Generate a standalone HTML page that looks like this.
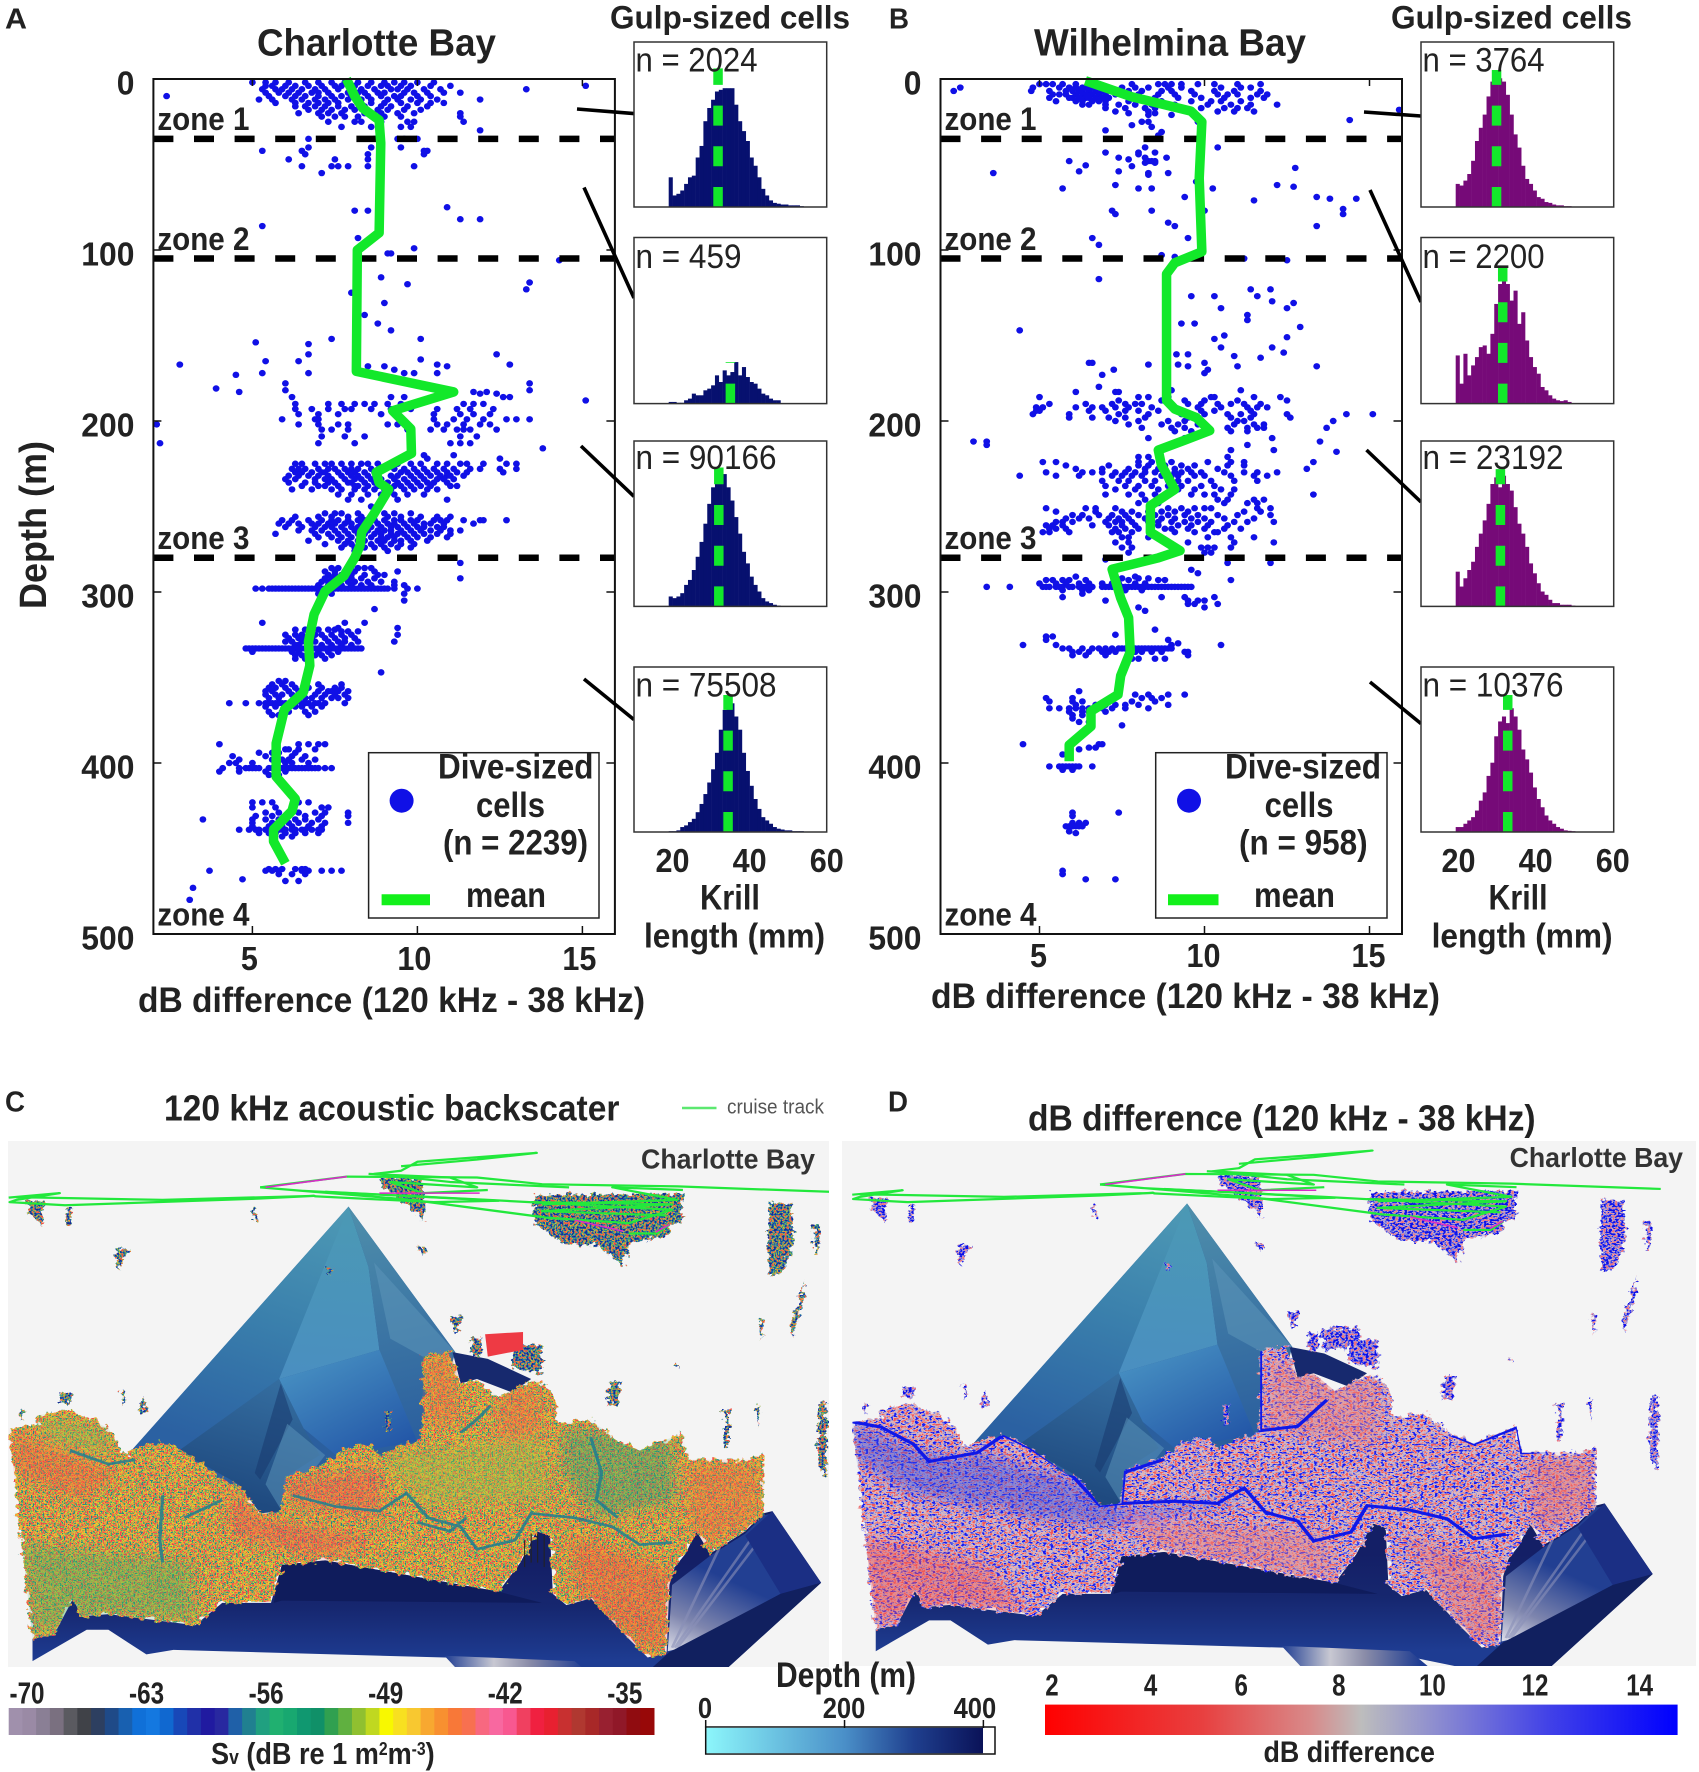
<!DOCTYPE html>
<html lang="en">
<head>
<meta charset="utf-8">
<title>Krill acoustic backscatter: Charlotte Bay and Wilhelmina Bay</title>
<style>
html,body{margin:0;padding:0;background:#fff;width:1699px;height:1772px;overflow:hidden}
svg{display:block}
text{font-family:"Liberation Sans",sans-serif;fill:#222}
.b{font-weight:bold}
</style>
</head>
<body>
<svg id="fig" xmlns="http://www.w3.org/2000/svg" width="1699" height="1772" viewBox="0 0 1699 1772">
<defs>
  <filter id="noiseC" x="0" y="0" width="100%" height="100%" color-interpolation-filters="sRGB">
    <feTurbulence type="fractalNoise" baseFrequency="0.07" numOctaves="3" seed="5" result="w"/>
    <feDisplacementMap in="SourceGraphic" in2="w" scale="26" xChannelSelector="R" yChannelSelector="G" result="shape"/>
    <feTurbulence type="fractalNoise" baseFrequency="0.28 0.26" numOctaves="2" seed="3" result="n"/>
    <feColorMatrix in="n" type="matrix" values="3.0 0 0 0 -1.0 3.0 0 0 0 -1.0 3.0 0 0 0 -1.0 0 0 0 0 1"/>
    <feComponentTransfer>
      <feFuncR type="discrete" tableValues=".14 .36 .72 .93 .97 .97 .96 .94"/>
      <feFuncG type="discrete" tableValues=".52 .70 .80 .84 .72 .58 .42 .26"/>
      <feFuncB type="discrete" tableValues=".54 .38 .24 .20 .18 .24 .32 .32"/>
    </feComponentTransfer>
    <feComposite in2="shape" operator="in"/>
  </filter>
  <filter id="noiseCb" x="-5%" y="-5%" width="110%" height="110%" color-interpolation-filters="sRGB">
    <feTurbulence type="fractalNoise" baseFrequency="0.09" numOctaves="3" seed="11" result="w"/>
    <feDisplacementMap in="SourceGraphic" in2="w" scale="22" xChannelSelector="R" yChannelSelector="G" result="shape"/>
    <feTurbulence type="fractalNoise" baseFrequency="0.25 0.2" numOctaves="2" seed="6" result="n"/>
    <feColorMatrix in="n" type="matrix" values="3.0 0 0 0 -1.0 3.0 0 0 0 -1.0 3.0 0 0 0 -1.0 0 0 0 0 1"/>
    <feComponentTransfer>
      <feFuncR type="discrete" tableValues=".10 .10 .12 .12 .30 .78 .94 .94"/>
      <feFuncG type="discrete" tableValues=".16 .24 .38 .54 .66 .78 .60 .30"/>
      <feFuncB type="discrete" tableValues=".58 .70 .76 .56 .40 .24 .20 .30"/>
    </feComponentTransfer>
    <feComposite in2="shape" operator="in"/>
  </filter>
  <filter id="noiseD" x="0" y="0" width="100%" height="100%" color-interpolation-filters="sRGB">
    <feTurbulence type="fractalNoise" baseFrequency="0.07" numOctaves="3" seed="5" result="w"/>
    <feDisplacementMap in="SourceGraphic" in2="w" scale="26" xChannelSelector="R" yChannelSelector="G" result="shape"/>
    <feTurbulence type="fractalNoise" baseFrequency="0.15 0.22" numOctaves="2" seed="8" result="n"/>
    <feColorMatrix in="n" type="matrix" values="3.0 0 0 0 -1.0 3.0 0 0 0 -1.0 3.0 0 0 0 -1.0 0 0 0 0 1"/>
    <feComponentTransfer>
      <feFuncR type="discrete" tableValues=".94 .93 .92 .88 .80 .66 .40 .10"/>
      <feFuncG type="discrete" tableValues=".35 .55 .68 .74 .72 .66 .45 .10"/>
      <feFuncB type="discrete" tableValues=".35 .55 .68 .75 .80 .85 .90 .95"/>
    </feComponentTransfer>
    <feComposite in2="shape" operator="in"/>
  </filter>
  <filter id="noiseDb" x="-5%" y="-5%" width="110%" height="110%" color-interpolation-filters="sRGB">
    <feTurbulence type="fractalNoise" baseFrequency="0.09" numOctaves="3" seed="11" result="w"/>
    <feDisplacementMap in="SourceGraphic" in2="w" scale="22" xChannelSelector="R" yChannelSelector="G" result="shape"/>
    <feTurbulence type="fractalNoise" baseFrequency="0.18 0.22" numOctaves="2" seed="4" result="n"/>
    <feColorMatrix in="n" type="matrix" values="3.0 0 0 0 -1.0 3.0 0 0 0 -1.0 3.0 0 0 0 -1.0 0 0 0 0 1"/>
    <feComponentTransfer>
      <feFuncR type="discrete" tableValues=".92 .90 .80 .62 .36 .12 .06 .06"/>
      <feFuncG type="discrete" tableValues=".45 .62 .68 .62 .40 .14 .06 .06"/>
      <feFuncB type="discrete" tableValues=".50 .70 .80 .85 .90 .94 .94 .90"/>
    </feComponentTransfer>
    <feComposite in2="shape" operator="in"/>
  </filter>
  <filter id="soft" x="-20%" y="-20%" width="140%" height="140%"><feGaussianBlur stdDeviation="14"/></filter>
  <linearGradient id="gFaceL" gradientUnits="userSpaceOnUse" x1="640" y1="305" x2="420" y2="850"><stop offset="0" stop-color="#4e9ab5"/><stop offset=".5" stop-color="#3a7fac"/><stop offset="1" stop-color="#2b61a2"/></linearGradient>
  <linearGradient id="gFaceC" gradientUnits="userSpaceOnUse" x1="640" y1="305" x2="600" y2="680"><stop offset="0" stop-color="#4b99b4"/><stop offset="1" stop-color="#4a8fc0"/></linearGradient>
  <linearGradient id="gFaceR" gradientUnits="userSpaceOnUse" x1="640" y1="305" x2="780" y2="820"><stop offset="0" stop-color="#4f8fab"/><stop offset="1" stop-color="#2b5f9e"/></linearGradient>
  <linearGradient id="gFaceLow" gradientUnits="userSpaceOnUse" x1="560" y1="640" x2="700" y2="860"><stop offset="0" stop-color="#4790c2"/><stop offset="1" stop-color="#2458a8"/></linearGradient>
  <linearGradient id="gSmall" gradientUnits="userSpaceOnUse" x1="510" y1="690" x2="420" y2="950"><stop offset="0" stop-color="#356ea0"/><stop offset="1" stop-color="#1f4a80"/></linearGradient>
  <linearGradient id="gFan" gradientUnits="userSpaceOnUse" x1="1235" y1="1300" x2="1330" y2="1130"><stop offset="0" stop-color="#e0e0ea"/><stop offset=".4" stop-color="#7f86ae"/><stop offset="1" stop-color="#223f92"/></linearGradient>
  <linearGradient id="gBase" gradientUnits="userSpaceOnUse" x1="500" y1="1100" x2="500" y2="1320"><stop offset="0" stop-color="#141f66"/><stop offset=".45" stop-color="#16276f"/><stop offset="1" stop-color="#1e3c92"/></linearGradient>
  <linearGradient id="gFloor" gradientUnits="userSpaceOnUse" x1="820" y1="0" x2="1080" y2="0"><stop offset="0" stop-color="#1e3c92"/><stop offset=".35" stop-color="#c8c8d2"/><stop offset=".6" stop-color="#8a8ca8"/><stop offset="1" stop-color="#1e3c92"/></linearGradient>
  <linearGradient id="gDepth" x1="0" x2="1" y1="0" y2="0"><stop offset="0" stop-color="#8cf6fb"/><stop offset=".5" stop-color="#4a8fc8"/><stop offset=".75" stop-color="#1f3f8e"/><stop offset="1" stop-color="#0a1258"/></linearGradient>
  <linearGradient id="gDb" x1="0" x2="1" y1="0" y2="0"><stop offset="0" stop-color="#ff0000"/><stop offset=".25" stop-color="#e84040"/><stop offset=".42" stop-color="#d88a8a"/><stop offset=".5" stop-color="#bdbdbd"/><stop offset=".62" stop-color="#8c8cd0"/><stop offset=".8" stop-color="#4040e8"/><stop offset="1" stop-color="#0000ff"/></linearGradient>

  <polygon id="curtain" points="16,800 70,792 72,770 130,760 200,800 230,860 262,838 300,830 350,860 420,920 440,925 480,990 520,985 525,910 600,880 630,850 680,830 700,860 760,830 780,820 780,640 830,625 850,700 880,690 920,730 990,690 1020,720 1030,790 1090,780 1140,830 1180,850 1260,810 1270,870 1400,870 1410,855 1408,990 1375,1030 1310,1080 1285,1030 1265,1080 1245,1110 1235,1150 1230,1300 1195,1312 1160,1270 1120,1220 1090,1180 1045,1195 1020,1170 1015,1040 990,1030 960,1100 920,1165 600,1095 520,1105 500,1190 410,1190 360,1240 200,1215 150,1220 135,1180 100,1260 60,1270"/>
  <polygon id="hotPatch" points="895,590 965,585 965,625 900,640"/>
  <g id="blobs">
    <polygon points="985,280 1260,275 1258,340 1240,345 1235,370 1160,385 1150,440 1100,390 1040,390 985,340"/>
    <polygon points="1420,295 1460,300 1465,380 1445,450 1420,460 1415,370"/>
    <polygon points="950,615 1000,615 1000,680 945,665"/><polygon points="868,600 890,600 888,640 872,640"/>
    <polygon points="50,290 80,295 78,350 55,320"/><polygon points="120,310 133,310 130,345 122,345"/>
    <polygon points="465,312 473,312 473,338 466,338"/><polygon points="700,240 780,240 782,335 760,310 705,260"/>
    <polygon points="213,400 238,400 218,450"/><polygon points="1125,695 1145,695 1142,745 1120,745"/>
    <polygon points="1400,555 1408,555 1405,600"/><polygon points="1460,560 1485,470 1480,530 1462,600"/>
    <polygon points="1500,345 1515,345 1510,410 1503,410"/><polygon points="1335,760 1345,760 1345,840 1338,840"/>
    <polygon points="1510,745 1525,745 1525,910 1510,880"/><polygon points="110,720 132,720 130,750 112,745"/>
    <polygon points="222,715 232,720 228,745"/><polygon points="260,735 268,735 268,765 260,765"/>
    <polygon points="1395,750 1402,750 1400,800"/><polygon points="1245,650 1250,650 1250,670"/>
    <polygon points="600,440 612,440 608,460"/><polygon points="710,760 722,760 720,805 712,805"/>
    <polygon points="830,550 855,550 840,590"/><polygon points="775,395 785,395 782,420"/><polygon points="35,760 45,760 40,785"/>
  </g>
  <g id="terrain">
    <polygon fill="#2b5f9e" points="643,305 235,860 330,870 520,1000 790,850 840,630"/>
    <polygon fill="url(#gFaceL)" points="643,305 235,860 330,850 515,690 600,640"/>
    <polygon fill="url(#gFaceC)" points="643,305 515,690 700,625 680,440"/>
    <polygon fill="url(#gFaceR)" points="643,305 840,630 782,825 740,800 700,625 680,440"/>
    <polygon fill="url(#gFaceLow)" points="515,690 700,625 770,830 620,860 560,800"/>
    <polygon fill="url(#gSmall)" points="515,690 330,850 440,925 480,990 520,985 525,910 590,860 560,800"/>
    <polygon fill="#17396e" opacity=".55" points="518,700 540,780 480,915 470,900"/>
    <polygon fill="#5a92b8" opacity=".55" points="530,790 600,860 520,985 490,925"/>
    <polygon fill="#5a92b8" opacity=".6" points="690,430 840,630 780,640 720,600"/>
    <polygon fill="#17296e" points="835,630 900,645 980,690 945,720 880,690 850,700"/>
    <polygon fill="url(#gBase)" points="60,1270 100,1260 135,1180 150,1220 200,1215 360,1240 410,1190 500,1190 520,1105 600,1095 920,1165 960,1100 990,1030 1015,1040 1020,1170 1045,1195 1090,1180 1160,1270 1195,1312 1230,1300 1235,1150 1245,1110 1265,1080 1285,1030 1310,1080 1375,1030 1408,990 1425,985 1515,1145 1320,1360 1170,1360 1000,1318 320,1295 270,1305 200,1250 160,1250 60,1320"/>
    <polygon fill="url(#gFan)" points="1232,1298 1240,1150 1310,1085 1375,1035 1408,995 1425,990 1500,1130 1260,1290"/>
    <g stroke="#8a90b8" stroke-width="5" opacity=".6" fill="none"><line x1="1240" y1="1290" x2="1330" y2="1060"/><line x1="1245" y1="1290" x2="1390" y2="1040"/><line x1="1250" y1="1290" x2="1420" y2="1020"/></g>
    <polygon fill="#1b2f84" points="1425,985 1515,1145 1440,1170 1375,1040"/>
    <polygon fill="#11205f" points="1515,1145 1320,1360 1180,1360 1235,1300 1440,1170"/>
    <polygon fill="url(#gFloor)" points="820,1308 1060,1320 1100,1360 860,1360"/>
    <polygon fill="#0f1c5c" points="520,1105 600,1095 920,1165 1000,1190 520,1185 505,1190"/>
  </g>
  <g id="track" fill="none" stroke="#22e83c" stroke-width="5" stroke-linejoin="round">
    <polyline points="16,285 110,275 30,290 18,295 120,302 480,287 580,281 300,290 30,284"/>
    <polyline points="480,262 640,238 880,240 1000,255 1250,260 1530,272"/>
    <polyline points="740,215 880,200 990,185 770,205 740,225 690,232 830,250 1050,262"/>
    <polyline points="560,270 900,290 1240,312 1160,342 1010,330 760,290 480,262"/>
    <polyline points="1160,365 1212,365 1235,345"/>
    <polyline points="580,282 800,295 920,292 700,278 600,272"/>
    <polyline points="1000,300 1250,290 1130,262 1260,268"/>
    <polyline points="680,232 830,240 880,262 720,250 780,275 900,268"/>
    <polyline points="980,295 1240,300 1000,315 1230,325"/>
  </g>
  <g id="trackPink" fill="none" stroke="#d82cc8" stroke-width="3.5">
    <polyline points="490,262 640,238"/><polyline points="700,275 885,275"/><polyline points="1060,335 1150,360"/><polyline points="1210,362 1235,345"/>
  </g>
  <clipPath id="clipCurtain"><use href="#curtain"/></clipPath>
  <clipPath id="clipC"><rect x="8" y="1141" width="821" height="526"/></clipPath>
  <clipPath id="clipD"><rect x="842" y="1141" width="854" height="525"/></clipPath>
</defs>

<rect x="0" y="0" width="1699" height="1772" fill="#fff"/>

<!-- Panel C -->
<text class="b" x="5" y="1111.6" font-size="29" textLength="20" lengthAdjust="spacingAndGlyphs">C</text>
<text class="b" x="164" y="1120.6" font-size="36" textLength="455.5" lengthAdjust="spacingAndGlyphs">120 kHz acoustic backscater</text>
<line x1="682" y1="1108" x2="716.5" y2="1108" stroke="#5ce870" stroke-width="2.5"/>
<text x="727" y="1113.4" font-size="20" textLength="97" lengthAdjust="spacingAndGlyphs" style="fill:#555">cruise track</text>
<g clip-path="url(#clipC)">
  <rect x="8" y="1141" width="821" height="526" fill="#f4f4f4"/>
  <g transform="translate(0,1070) scale(0.542,0.4478)">
    <use href="#terrain"/>
    <g filter="url(#noiseCb)"><use href="#blobs"/></g>
    <g filter="url(#noiseC)"><use href="#curtain"/></g>
    <use href="#hotPatch" fill="#ee3a44"/>
    <g clip-path="url(#clipCurtain)">
      <g filter="url(#soft)" opacity=".42">
        <polygon fill="#f04a50" points="520,920 700,890 700,1000 540,970"/>
        <polygon fill="#f04a50" points="420,930 480,1000 700,1050 600,1090 430,1040"/>
        <polygon fill="#f05a40" points="20,810 120,850 220,900 150,960 30,900"/>
        <polygon fill="#f05040" points="1050,1040 1240,1120 1230,1290 1180,1290 1070,1170"/>
        <polygon fill="#f06a40" points="780,640 840,640 850,780 790,800"/>
        <polygon fill="#f06a40" points="920,730 990,700 1000,800 920,850"/>
        <polygon fill="#f06a40" points="1270,880 1400,880 1400,1000 1300,1060 1270,1000"/>
        <polygon fill="#48b060" points="40,1060 350,1100 360,1230 200,1210 70,1260 30,1000"/>
        <polygon fill="#2f9f70" points="1040,800 1240,830 1250,960 1100,1000 1040,900"/>
        <polygon fill="#98c048" points="700,860 1000,820 1020,960 780,970"/>
        <polygon fill="#88b850" points="70,770 200,800 200,860 90,830"/>
        <polygon fill="#209090" points="20,1170 70,1260 40,1250"/>
      </g>
      <g fill="none" stroke="#1f7f90" stroke-width="6" opacity=".85">
        <polyline points="130,850 200,880 250,870"/>
        <polyline points="540,950 620,975 700,985 750,945 790,1000 850,1020 880,1070 950,1050 980,990 1060,1000 1130,1020 1180,1060 1240,1055"/>
        <polyline points="300,950 295,1050 300,1100"/>
        <polyline points="340,1000 410,960"/>
        <polyline points="850,810 880,780 905,750"/>
        <polyline points="1090,820 1110,900 1100,960 1140,1000"/>
        <polyline points="770,1010 830,1030 860,1000"/>
      </g>
    </g>
    <g stroke="#222" stroke-width="2">
      <line x1="968" y1="1050" x2="968" y2="1110"/><line x1="980" y1="1035" x2="980" y2="1100"/><line x1="992" y1="1035" x2="992" y2="1100"/><line x1="1004" y1="1040" x2="1004" y2="1110"/>
    </g>
    <use href="#track"/>
    <use href="#trackPink"/>
  </g>
  <text class="b" x="641" y="1168.5" font-size="28" textLength="174" lengthAdjust="spacingAndGlyphs" style="fill:#333">Charlotte Bay</text>
</g>

<!-- Panel D -->
<text class="b" x="888" y="1111.6" font-size="29" textLength="20" lengthAdjust="spacingAndGlyphs">D</text>
<text class="b" x="1028" y="1130.5" font-size="36" textLength="507.6" lengthAdjust="spacingAndGlyphs">dB difference (120 kHz - 38 kHz)</text>
<g clip-path="url(#clipD)">
  <rect x="842" y="1141" width="854" height="525" fill="#f4f4f4"/>
  <g transform="translate(843.7,1068.95) scale(0.534,0.4411)">
    <use href="#terrain"/>
    <g filter="url(#noiseDb)"><use href="#blobs"/><use href="#hotPatch"/></g>
    <g filter="url(#noiseD)"><use href="#curtain"/></g>
    <g clip-path="url(#clipCurtain)">
      <g filter="url(#soft)" opacity=".45">
        <polygon fill="#3a48e0" points="230,860 480,950 520,1000 760,975 500,1040 320,1010 240,950"/>
        <polygon fill="#3a48e0" points="20,800 120,860 250,890 280,1000 120,960 20,880"/>
        <polygon fill="#f05858" points="20,1060 260,1120 340,1230 200,1215 60,1260"/>
        <polygon fill="#e88080" points="520,1020 900,1050 920,1160 600,1090"/>
        <polygon fill="#e87070" points="1050,1060 1230,1130 1230,1290 1170,1290"/>
        <polygon fill="#e88080" points="800,660 1000,710 1000,860 790,810"/>
        <polygon fill="#e87070" points="1280,890 1400,880 1400,1000 1300,1050"/>
      </g>
      <g fill="none" stroke="#0f18e8" stroke-width="7">
        <polyline points="16,800 70,812 130,850 160,890 250,870 300,830 350,860 430,925 480,990 520,985 525,915 600,885"/>
        <polyline points="520,985 620,980 700,985 750,950 790,1005 850,1025 880,1070 950,1050 980,990 1060,1000 1130,1020 1180,1065 1240,1055"/>
        <polyline points="1140,830 1180,850 1262,812 1270,870 1408,862"/>
        <polyline points="780,640 780,820 850,810 905,750"/>
      </g>
    </g>
    <use href="#track"/>
    <use href="#trackPink"/>
  </g>
  <text class="b" x="1509.6" y="1167" font-size="28" textLength="173.4" lengthAdjust="spacingAndGlyphs" style="fill:#333">Charlotte Bay</text>
</g>

<!-- colour bars -->
<g id="svBar"></g>
<g id="svTicks"></g>
<text class="b" x="211" y="1764" font-size="31" textLength="223.7" lengthAdjust="spacingAndGlyphs">S<tspan font-size="20">v</tspan> (dB re 1 m<tspan font-size="18" dy="-9">2</tspan><tspan dy="9">m</tspan><tspan font-size="18" dy="-9">-3</tspan><tspan dy="9">)</tspan></text>

<text class="b" x="776" y="1687" font-size="35" textLength="140" lengthAdjust="spacingAndGlyphs">Depth (m)</text>
<rect x="705.7" y="1727" width="289.3" height="27" fill="#fff" stroke="#111" stroke-width="1.5"/>
<rect x="706.5" y="1727.8" width="276.5" height="25.4" fill="url(#gDepth)"/>
<g id="depthTicks"></g>

<rect x="1045" y="1704.6" width="632.6" height="30.4" fill="url(#gDb)"/>
<g id="dbTicks"></g>
<text class="b" x="1263.5" y="1762" font-size="30" textLength="171.5" lengthAdjust="spacingAndGlyphs">dB difference</text>

<!-- top panels titles -->
<text class="b" x="5" y="28.5" font-size="29" textLength="22" lengthAdjust="spacingAndGlyphs">A</text>
<text class="b" x="257" y="55.4" font-size="38" textLength="239" lengthAdjust="spacingAndGlyphs">Charlotte Bay</text>
<text class="b" x="610" y="28.6" font-size="32" textLength="240" lengthAdjust="spacingAndGlyphs">Gulp-sized cells</text>
<text class="b" x="889" y="28.5" font-size="29" textLength="20" lengthAdjust="spacingAndGlyphs">B</text>
<text class="b" x="1034" y="55.4" font-size="38" textLength="272" lengthAdjust="spacingAndGlyphs">Wilhelmina Bay</text>
<text class="b" x="1391" y="28.6" font-size="32" textLength="241" lengthAdjust="spacingAndGlyphs">Gulp-sized cells</text>
<text class="b" transform="translate(46,609) rotate(-90)" font-size="38" textLength="168" lengthAdjust="spacingAndGlyphs">Depth (m)</text>
<text class="b" x="138" y="1012" font-size="35" textLength="507" lengthAdjust="spacingAndGlyphs">dB difference (120 kHz - 38 kHz)</text>
<text class="b" x="931" y="1008" font-size="35" textLength="509" lengthAdjust="spacingAndGlyphs">dB difference (120 kHz - 38 kHz)</text>
<text class="b" x="700" y="909.5" font-size="35" textLength="60" lengthAdjust="spacingAndGlyphs">Krill</text>
<text class="b" x="644" y="947.6" font-size="34" textLength="181" lengthAdjust="spacingAndGlyphs">length (mm)</text>
<text class="b" x="1488.5" y="909.5" font-size="35" textLength="59" lengthAdjust="spacingAndGlyphs">Krill</text>
<text class="b" x="1431.6" y="947.6" font-size="34" textLength="181" lengthAdjust="spacingAndGlyphs">length (mm)</text>

<g id="chartA"></g>
<g id="chartB"></g>
</svg>

<script>
// ---------- axis labels ----------
const depthTickValues = [0, 100, 200, 300, 400, 500];
const diffTickValues = [5, 10, 15];
const lengthTickValues = [20, 40, 60];
const zoneDepths = [35, 105, 280];
const zoneLabels = ['zone 1', 'zone 2', 'zone 3', 'zone 4'];
const svTickLabels = ['-70', '-63', '-56', '-49', '-42', '-35'];
const svTickIndex = [0, 7, 14, 21, 28, 35];
const depthBarTicks = [0, 200, 400];
const dbBarTicks = [2, 4, 6, 8, 10, 12, 14];
const svPalette = ['#a090ac','#9a8aa5','#8a7f95','#7a7080','#5a5a60','#404248','#2d3f60','#1f4a88','#1860b0','#1070d8','#1478e0','#1068d0','#1848b8','#2030a8','#201aa0','#2828a0','#1f60a8','#208090','#20a080','#20b070','#18a870','#109870','#109068','#30a050','#60b040','#90c030','#c0d820','#f8f800','#f8e020','#f8c830','#f8a830','#f89030','#f87838','#f87050','#f86880','#f868a0','#f85890','#f04060','#f02040','#e82030','#c83030','#b03830','#a82828','#982030','#901828','#900c10','#980808'];

// ---------- panel A: mean profile ----------
const meanDiffA = [7.85,8.1,8.34,8.84,8.89,8.84,8.18,8.15,11.1,9.25,9.8,9.82,8.75,8.84,9.13,8.67,8.31,8.26,8.1,7.77,7.2,6.87,6.7,6.74,6.54,5.97,5.72,5.72,6.3,6.2,5.64,5.64,6.0];
const meanDepthA = [0,10,17,24,37.5,90,100,171,183,194,204.6,219,230,236,240,254.7,265,273,280,290.7,299.6,313,329,343,358.8,368.7,388.5,408,421,428,438.9,445.8,458.6];

// ---------- panel A: dive-sized cells, each row = [depth, dB difference...] ----------
const cellsA = [
[2,5.0,5.4,5.7,6.1,6.6,7.0,7.4,7.8,8.2,8.6,9.0,9.3,9.6,10.0,10.5],
[4,5.4,5.6,6.0,6.3,6.7,7.1,7.5,7.7,8.1,8.5,8.9,9.1,9.5,9.8,10.4,11.0,15.1],
[6,5.3,5.7,5.9,6.2,6.5,6.9,7.2,7.6,8.0,8.3,8.7,9.2,9.4,9.7,10.2,10.7,13.3],
[8,5.4,5.8,6.1,6.4,6.8,7.0,7.3,7.9,8.2,8.4,8.8,9.0,9.6,9.9,10.3,10.8,11.3],
[10,2.4,5.5,6.0,6.3,6.6,7.0,7.4,7.7,8.0,8.5,8.9,9.3,9.5,10.0,10.4],
[12,5.2,5.6,6.2,6.5,6.9,7.2,7.5,7.9,8.3,8.6,9.1,9.4,9.8,10.1,10.6,11.9],
[14,5.7,6.3,6.7,7.0,7.3,7.6,8.2,8.6,9.0,9.5,10.0,10.4,10.8],
[16,6.3,6.6,6.9,7.2,7.6,8.0,8.4,8.9,9.2,9.7,10.3],
[18,6.7,7.1,7.4,7.8,8.1,8.8,9.1,9.6,10.1],
[20,6.4,7.0,7.3,7.7,8.4,8.9,9.4,9.9,11.3],
[22,7.1,7.5,7.8,8.2,9.0,9.5,11.3],
[25,7.3,8.1,8.3,8.9,9.7,9.9,11.4],
[28,7.7,8.6,9.5,9.8],
[30,8.9,11.9],
[35,6.7,8.7,9.4,9.6,10.0],
[40,6.7,8.6,9.5],
[42,5.3,6.5,10.2,10.3],
[44,6.6,8.5,8.9,10.2],
[47,6.1,7.5,8.5],
[51,6.5,7.4,7.6,7.9,8.5,9.9],
[55,7.1],[69,8.9],[75,10.9],[77,8.1,8.5],[82,11.3,11.9],[86,5.3],[93,8.2],[99,9.9],[102,9.1,9.2],[106,14.3],[116,8.9],[119,13.4],[120,8.2,9.7],[123,13.3],[125,8.0],[131,9.0],[138,8.4],[143,8.8],[147,9.2],[152,7.4,10.1],[154,5.1],[155,6.7],[161,6.7,12.4],[164,10.1],[165,5.4,6.4],[167,2.8,12.8,10.6],[168,8.5,9.0,10.9],[170,9.3],
[172,5.3,6.7,9.6,9.9,10.6],[173,4.5],[178,6.0,13.4],[181,3.9],[182,6.0,13.4],[183,4.6,11.7,12.1],[184,11.9,12.4],[186,6.2,9.2,9.6,12.6,12.8],[188,15.1],
[190,6.3,7.3,7.7,8.1,8.4,8.7,9.1,9.5,9.9,11.4,11.7,12.0],
[193,6.3,6.8,7.3,7.8,8.0,8.6,9.2,9.8,10.6,11.2,11.6,12.3],
[196,6.4,7.0,7.6,8.9,9.4,10.5,11.3,11.7,12.2],
[199,5.9,6.9,7.0,10.5,11.1,11.5,12.0,12.7,13.0,13.4],
[202,2.1,6.4,7.0,7.6,7.9,9.1,9.4,10.6,10.9,11.4,11.9,12.2],
[205,7.1,7.4,7.9,9.7,10.4,10.8,11.2,11.4,11.6,12.4],
[209,7.1,7.8,8.4,11.3,11.8],
[213,2.2,7.0,8.1,9.8,11.0,11.3,11.6],
[216,13.8],[220,10.2,11.1],[222,12.5,10.3],
[225,6.3,6.5,6.9,7.2,7.4,7.7,8.0,8.3,8.5,8.8,9.4,9.8,10.1,10.6,10.9,11.3,11.5,12.0,12.7,13.0],
[228,6.2,6.4,6.6,7.0,7.3,7.5,7.8,8.0,8.2,8.6,9.0,9.3,9.6,9.9,10.2,10.5,10.8,11.1,11.6,11.9,12.5,13.0],
[230,6.3,6.5,6.8,7.1,7.2,7.6,7.9,8.1,8.4,8.7,9.5,9.7,10.0,10.3,10.6,10.9,11.2,11.5,12.6],
[232,6.1,6.4,6.7,7.0,7.3,7.7,8.0,8.2,8.5,8.8,9.2,9.4,9.8,10.1,10.4,10.7,10.9,11.0,11.4],
[234,6.0,6.3,6.9,7.2,7.4,7.8,8.1,8.3,8.6,8.9,9.3,9.6,9.9,10.2,10.6,10.8,11.1],
[236,6.1,6.6,6.9,7.3,7.5,7.9,8.0,8.4,8.7,9.1,9.4,9.7,10.0,10.3,10.5,10.9],
[238,6.5,7.0,7.2,7.6,8.1,8.2,8.5,8.8,9.0,9.3,9.5,9.8,10.1,10.4,11.0,11.2],
[240,6.2,6.8,7.4,7.7,8.1,8.4,8.7,9.0,9.2,9.6,9.9,10.3,10.6],
[243,7.6,8.0,8.5,8.9,9.3,9.7,10.2],[246,7.9,8.3,9.4,10.9],[250,8.6],
[254,7.2,7.5,7.7,8.2,9.0,9.3,9.8],
[256,6.3,7.0,7.4,7.9,8.3,8.6,9.1,9.5,10.1,10.6,11.0],
[258,5.9,6.2,6.7,7.1,7.4,7.6,7.9,8.2,8.4,8.7,9.0,9.3,9.5,9.8,10.0,10.5,10.7,10.9,11.4,11.9,12.0,12.7],
[260,5.8,6.1,6.4,6.8,7.0,7.3,7.5,7.8,8.0,8.3,8.5,8.8,9.1,9.3,9.6,9.9,10.2,10.4,10.8,11.7],
[262,6.0,6.5,6.9,7.2,7.4,7.7,8.0,8.2,8.4,8.6,8.9,9.2,9.4,9.7,10.0,10.2,10.6,10.8],
[264,6.4,6.8,7.1,7.5,7.8,8.1,8.3,8.5,8.8,9.0,9.2,9.5,9.8,10.1,10.4,10.7,11.0,11.3],
[266,5.7,6.9,7.3,7.6,7.9,8.2,8.4,8.7,8.9,9.2,9.4,9.6,9.9,10.2,10.6,11.0],
[268,7.0,7.4,7.7,8.0,8.3,8.6,8.9,9.1,9.3,9.7,10.0,10.4,10.9],
[270,6.7,7.6,7.9,8.2,8.4,8.8,9.0,9.3,9.5,9.8,10.3],
[272,7.2,7.8,8.0,8.3,8.6,8.9,9.2,9.5,9.9],
[274,7.7,8.1,8.4,8.7,9.0,9.4,9.8],
[276,8.1,9.1],[283,11.3],
[286,7.4,7.6,8.2,8.4,8.6],[288,7.2,7.5,7.8,8.1,8.7,9.4],[290,7.3,7.5,7.7,8.0,8.4,8.8,9.0],
[292,7.2,7.4,7.6,8.0,8.3,8.7,11.3],[294,7.1,7.3,7.5,7.9,8.1,8.5,8.9,9.3],[296,7.0,7.3,7.7,8.0,8.3,8.6,9.3,9.6],
[298,5.1,5.3,5.5,5.6,5.7,5.8,5.9,6.0,6.1,6.2,6.3,6.4,6.5,6.6,6.7,6.8,6.9,7.0,7.1,7.2,7.3,7.4,7.5,7.6,7.7,7.8,7.9,8.0,8.1,8.2,8.3,8.4,8.5,8.6,8.7,8.8,8.9,9.0,9.1,9.3,10.0,9.7],
[301,7.0,7.2,7.4,9.6],[305,9.6,7.1],[310,8.7],
[318,5.3,7.8,8.4],[321,9.4,7.6],[322,6.3,6.6,7.0,7.3,7.5],[323,6.8,7.7,7.9,8.2],
[325,6.0,6.3,6.5,6.7,6.9,7.1,7.4,7.7,8.0,9.4],[327,6.1,6.4,6.6,6.8,7.2,7.5,7.8,8.1],[329,6.0,6.2,6.5,6.9,7.3,7.6,7.8,8.2,9.3],
[331,6.3,6.4,6.7,7.1,7.4,7.7,8.0],
[333,4.8,4.9,5.0,5.1,5.2,5.3,5.4,5.5,5.6,5.7,5.8,5.9,6.0,6.1,6.2,6.3,6.4,6.5,6.6,6.7,6.8,6.9,7.0,7.1,7.2,7.3,7.4,7.5,7.6,7.7,7.8,7.9,8.0,8.1,8.2,8.3],
[335,5.0,6.2,6.4,6.7,7.0,7.3,7.6],[337,6.3,6.5,6.9,7.1,7.4],[339,6.3,6.6,7.2],[347,8.9],
[352,5.8,6.0],[354,5.6,5.9,6.2,7.0,7.7],[356,5.5,5.7,6.0,6.3,6.7,7.1,7.5,7.7],[358,5.4,5.6,6.1,6.4,6.6,7.0,7.3,7.4,7.6,7.9],
[360,5.4,5.7,5.9,6.2,6.5,6.9,7.2,7.5,7.8],[362,5.5,5.8,6.3,6.6,6.8,7.1,7.4,7.6,7.9],
[365,4.3,4.8,5.2,5.4,5.5,5.6,5.7,5.8,5.9,6.0,6.2,6.3,6.5,6.6,6.7,6.9,7.0,7.2,7.8],
[367,5.4,5.7,6.0,6.3,6.5,6.8,7.1],[370,5.5,5.9,6.1,6.6,6.9],[372,5.6,5.8,6.7],
[389,4.0,6.4,6.7,7.0,7.2],[392,6.0,6.1,6.4,6.9],[394,5.2,5.6,5.8,6.3],[396,4.4,5.4,6.2,6.6],[398,4.6,5.6,5.9,6.1,6.5,6.9],
[400,4.3,4.5,5.0,5.7,6.0,6.2,6.7],
[403,4.1,4.6,4.8,4.9,5.0,5.1,5.2,5.5,5.6,5.7,5.8,5.9,6.0,6.1,6.2,6.3,6.4,6.5,6.6,6.7,6.8,6.9,7.0,7.2,7.4],
[405,4.0,4.6,5.4,5.7,6.0],[407,5.5,5.8],
[423,5.0,5.3,5.6,6.4,6.7],[426,5.0,5.7,6.2,7.1,7.3],[429,5.4,5.8,6.4,6.9,7.2,7.9],[431,5.1,5.6,6.0,6.6,7.1,7.9],[433,3.5,5.0,5.4,5.8,6.3,6.6,7.0],[435,5.0,5.6,6.1,6.4,6.8,7.2,7.9],[437,5.0,5.5,5.9,6.2,6.7,7.1],
[439,4.6,4.9,5.1,5.2,5.4,5.5,5.6,5.8,5.9,6.0,6.2,6.3,6.5,6.6,6.8,7.0,7.1],
[441,5.2,5.5,5.7,6.0,6.3,6.6,7.0],[443,5.6,5.9,6.2],
[462,5.5,5.7,5.9,6.3,6.5,6.6],[463,3.7,5.4,5.6,5.8,6.5,6.7,7.1,7.4,7.7],[465,5.8,6.2,6.6],[468,4.7],[469,6.0,6.4],
[473,3.2],[480,3.1]
];

// ---------- panel A histograms (percent of axis height per 1 mm bin from 19 mm) ----------
const histA1 = [18,7,8,10,14,18,19,30,37,52,60,65,70,71,72,72,72,62,52,46,40,30,25,18,11,7,4,2.5,2,1.5,1.5,1,1,1,.5];
const histA2 = [1,1,.5,.5,2,3,6,5,5,8,9,11,17,13,20,17,19,25,17,22,16,13,12,9,6,5,3,2,2];
const histA3 = [6,5,6,8,13,16,22,30,39,50,62,72,80,82,80,72,64,54,44,33,26,18,13,9,5,3,2,1,.5];
const histA4 = [.5,.5,1,3,4,6,8,12,17,23,30,38,48,62,74,79,78,70,62,48,37,28,20,14,9,7,5,3,2,1.5,1,1,.5,.5,.5,.3];
const meanLengthA = [31.8, 35, 32, 34.4];
const meanTopA = [84, 25, 84, 83];
const countLabelsA = ['n = 2024', 'n = 459', 'n = 90166', 'n = 75508'];

// ---------- panel B: mean profile ----------
const meanDiffB = [6.39,7.79,9.59,9.92,9.89,9.84,9.92,9.1,8.85,8.85,9.1,9.75,10.16,9.43,8.6,8.69,9.1,8.36,8.36,9.26,8.61,7.2,7.46,7.7,7.75,7.46,7.38,6.56,6.56,5.9,5.9];
const meanDepthB = [1,10.4,18.8,25,37.6,58,101,107.5,114,188,193,198,205.6,211,217,225.5,240,249.5,265,275.8,280,286.7,303.5,315,335,349,360,369.7,378.6,389.5,399];

// ---------- panel B: dive-sized cells, each row = [depth, dB difference...] ----------
const cellsB = [
[3,5.0,5.2,5.4,5.7,6.1,7.8,8.6,8.8,9.0,9.3,9.8,10.3,11.0,11.7],
[5,2.6,4.8,5.6,5.9,6.1,6.3,6.4,6.6,7.5,7.9,8.3,8.9,9.3,10.5,11.1,11.4],
[7,2.4,4.75,5.3,5.8,6.0,6.2,6.3,6.5,6.7,6.9,7.7,8.1,8.7,9.0,9.6,10.3,10.9,11.7],
[9,5.4,5.6,5.8,6.1,6.3,6.4,6.6,6.8,7.0,7.3,8.0,8.6,9.1,9.7,10.4,10.7,11.0,11.6,11.9],
[11,5.3,5.9,6.0,6.2,6.4,6.5,6.7,6.9,7.1,7.9,8.5,9.2,9.9,10.6,11.4,11.8],
[13,5.5,6.1,6.3,6.6,6.8,7.0,7.7,8.2,8.7,9.6,10.2,10.5,11.1],
[15,6.3,6.5,7.0,7.4,7.9,8.4,9.1,10.1,10.8,11.4,12.2],
[17,7.0,7.6,8.2,8.5,9.3,9.9,10.6,11.0,11.3],
[18,15.9],[19,7.3,8.3,10.4,10.9,11.5],[20,7.7,8.5],[21,8.3,9.0],
[24,14.4],[25,8.1,8.3,9.8],[27,7.8],[28,8.4],[30,7.0],[31,8.7],[33,8.6],
[40,8.2,10.4],[43,7.0,8.0,8.5],[44,8.0],[46,7.4,8.85,8.2],[47,7.7],[48,5.9,8.3,8.4,8.5],[49,8.2,8.5],[50.5,6.4],[51,7.8],[52,12.75],[54,6.2,7.4],[55,3.6,8.3,8.9],[56,8.3],
[60,9.75],[62,7.3,12.2],[63,12.7],[64,8.0,8.4,5.7,10.25],[69,9.4,13.4],[70,13.8,14.6],[71,11.5],[76,14.2],[77,8.4,10.0,7.2],[79,7.3,14.2],[84,8.9],[86,9.1,13.4],[93,6.6,9.5],[97,6.8],[103,8.7],[104,9.1],[105,11.2],[106,12.5],[117,6.8],
[123,11.4,12.0],[127,9.6,10.3,11.6],[130,12.05],[131,12.7],[134,10.5,12.5],[138,11.3],[141,11.3],[143,9.3,9.7],[145,12.9],[147,4.4],[150,10.6],[151,12.5],[152,10.3],[157,10.5,12.05],[160,12.4],[161,9.15,9.5],[162,10.9],[163,11.7],[166,6.5,6.6,10.0],[167,8.3,9.2],[168,9.5,11.0,13.4],[170,7.25,10.1],[172,10.0],[173,6.9],[180,6.8],[182,9.0,11.1],[183,6.1,7.3,7.4],
[186,5.0,8.0,8.3,8.9,10.2,10.3,11.5,12.3],
[188,7.4,8.7,9.4,10.0,11.0,12.5],
[190,5.3,6.4,7.2,7.6,7.9,8.1,9.5,9.9,10.4,10.8,11.2,11.7],
[192,4.9,5.1,6.1,6.6,6.9,7.3,7.7,8.4,9.0,9.8,10.5,11.3,11.6,11.9],
[194,4.9,5.0,6.5,7.0,7.6,8.0,8.6,9.2,9.9,10.3,11.4],
[196,4.8,5.9,7.4,8.3,9.3,10.0,10.7,11.1,11.5,12.5,14.3,15.1],
[198,5.9,6.6,7.1,7.6,8.2,9.5,10.8,11.4,12.6],
[200,7.3,8.0,8.9,9.4,11.0,11.2,13.9],
[202,7.7,8.7,9.2,9.8,10.9,11.5,11.8],
[204,8.1,9.0,9.4,10.7,11.3,11.6,11.8,13.7],
[206,9.1,9.6,10.8,11.3],
[210,8.3,9.4,12.05],[212,3.0,3.4,13.5],[214,3.4,11.3],[217,10.8,12.1],[218,14.0],[221,8.0,8.3,10.7],
[224,5.1,5.5,8.0,8.4,9.0,10.1,10.8,11.2,13.3],[226,5.8,7.1,8.0,8.3,8.8,9.3,9.7,10.7,11.2],[228,6.1,6.9,7.7,8.2,8.6,9.1,9.5,10.4,13.1],
[230,5.2,6.3,6.6,6.9,7.3,7.6,7.9,8.2,8.5,8.8,9.1,9.3,9.6,9.9,10.6,11.2,11.6,12.2],
[232,4.4,5.5,6.2,7.2,7.5,7.8,8.1,8.7,9.0,9.2,9.7,10.0,10.8,11.5,11.9],
[235,6.9,7.4,7.7,8.2,8.5,8.9,9.2,9.5,10.2,10.9,11.6],[238,7.0,7.6,8.0,8.4,8.9,9.3,9.9,10.3],[240,7.3,7.9,8.6,9.2,9.7,10.5,10.9],
[243,7.0,7.7,8.1,8.5,9.6,10.0,10.3,10.8,13.3],[246,8.2,8.6,10.4,10.7,11.5,11.8],[248,8.0,8.6,10.6,11.3,11.6],
[251,5.2,6.4,6.7,7.3,8.4,8.9,9.3,9.7,10.0,10.2,11.6,12.0],
[253,5.5,6.7,7.5,7.8,8.3,8.7,9.1,9.5,11.2,11.7],
[255,6.0,6.3,6.8,7.2,7.6,8.0,8.5,8.9,9.4,9.8,10.4,11.0,12.0],
[257,5.8,6.2,6.5,7.1,7.4,7.7,8.2,8.7,9.1,9.6,10.0,10.6,11.5],
[259,5.5,5.7,6.0,7.0,7.3,7.5,7.8,8.3,8.6,9.0,9.4,9.8,10.2,10.9,11.3,12.1],
[261,5.2,5.4,5.7,6.6,7.1,7.5,7.9,8.6,9.2,9.6,10.1,10.7],
[263,5.3,5.5,5.8,7.3,7.6,8.0,8.8,9.0,9.5,10.0,10.6,11.1],
[265,5.1,5.3,5.9,7.2,7.4,7.8,8.4,9.1,9.7,10.3,10.4],
[268,7.5,7.7,8.3,10.1,10.8,11.5],[271,7.3,7.7,8.9,9.5,10.9,12.1],
[274,7.5,7.8,9.9,10.1,10.3,10.8],[277,7.7,10.0,10.2],
[281,7.0],[283,10.7,12.0],[287,9.6],[289,9.8],[291,6.1,7.9],[292,7.5,8.0,8.3],[293,5.2,5.4,5.7,5.9,6.4,7.7,8.6,8.8,10.8],
[295,5.0,5.5,5.8,6.2,6.5,6.9,7.2,7.4,7.9,8.2],
[297,3.4,4.1,5.1,5.2,5.3,5.5,5.6,5.7,5.9,6.0,6.2,6.3,6.4,6.6,6.9,7.0,7.1,7.2,7.3,7.4,7.5,7.6,7.7,7.8,7.9,8.0,8.1,8.2,8.3,8.4,8.5,8.6,8.7,8.8,8.9,9.0,9.1,9.2,9.3,9.4,9.5,9.6],
[299,5.7,6.3,6.5,7.6,8.1],[301,6.3],[303,5.7,8.7,9.4,10.3],[305,7.0,9.5,9.8,10.0],[307,9.5,9.7,10.4],[309,8.0,10.0],[311,8.2],
[322,8.5],[325,7.3],[326,5.2,5.4],[328,5.2,8.9],[330,9.2],[331,4.5,5.5,9.0,10.5],
[333,5.7,5.9,6.3,6.6,6.8,7.0,7.2,7.4,7.5,7.6,7.7,7.8,7.9,8.0,8.1,8.2,8.3,8.4,8.5,8.6,8.7,8.8,8.9,9.0],
[335,6.0,6.2,6.5,6.9,7.1,7.3,7.7,7.9,8.1,8.4,8.7,9.4,9.5],[337,6.0,6.4,7.0,9.5],[339,7.8,8.0,8.5,8.8],
[358,6.2],[360,7.9,8.9,8.3,9.4],[362,5.2,6.0,7.2,8.1,8.4,8.7],[364,5.3,6.0,6.3,7.8,8.5],[366,6.1,6.7,7.0,7.3,7.6,8.0,8.9],[368,5.3,5.6,5.9,6.1,6.3,6.5,6.7,6.9,7.2,7.6,8.3],[370,5.9,6.3,6.5,7.0],[372,6.0,6.3],[374,6.0],[376,6.2,6.5],[378,7.5],
[389,4.5,6.8,6.9],[391,6.5,6.7],[392,5.9,6.2],[395,5.7],[402,5.3,5.6,5.7,5.8,5.9,6.0,6.1,6.2,6.6],[404,5.7,6.0],
[429,6.0,7.4],[431,6.0],[435,6.0,6.2,6.4],[437,5.8,5.9,6.0,6.1,6.2,6.3],[440,5.9],[441,6.1],
[463,5.7],[465,5.7],[468,6.4,7.3]
];

// ---------- panel B histograms ----------
const histB1 = [14,13,16,20,28,40,48,56,67,76,80,78,76,68,56,44,36,25,17,14,10,6,5,3,2.5,1.5,1,1,.5,.5,.3];
const histB2 = [29,12,30,17,23,28,34,35,30,42,60,72,77,72,62,68,48,55,38,28,22,18,10,8,5,3,2,1.5,2,1];
const histB3 = [21,12,17,22,27,36,44,52,62,74,78,72,79,74,70,60,50,44,36,26,20,14,9,7,4,2,2,1,1,1,.5];
const histB4 = [3,3,5,7,9,13,19,24,34,42,58,67,70,66,75,70,62,50,44,36,27,20,15,10,7,5,3,2,1,.7,.5,.3];
const meanLengthB = [29.6, 31.2, 30.6, 32.5];
const meanTopB = [83, 83, 83, 83];
const countLabelsB = ['n = 3764', 'n = 2200', 'n = 23192', 'n = 10376'];

const SVG_NS = 'http://www.w3.org/2000/svg';
function add(parent, tag, attrs, label) {
  const el = document.createElementNS(SVG_NS, tag);
  for (const k in attrs) el.setAttribute(k, attrs[k]);
  if (label !== undefined) el.textContent = label;
  parent.appendChild(el);
  return el;
}
function addText(parent, x, y, size, label, width, bold, anchor) {
  const el = add(parent, 'text', {x: x, y: y, 'font-size': size}, label);
  if (bold) el.setAttribute('class', 'b');
  if (anchor) el.setAttribute('text-anchor', anchor);
  if (width) { el.setAttribute('textLength', width); el.setAttribute('lengthAdjust', 'spacingAndGlyphs'); }
  return el;
}

const histFrames = [[42,207],[237.5,403.6],[441,606.4],[667,832]];
const histBaselines = [71.4,268,469,696.6];

function drawChart(root, p) {
  const x = v => p.left + (v - 2) * 33.0;
  const y = v => 79 + v * 1.71;

  p.cells.forEach(row => {
    for (let i = 1; i < row.length; i++) {
      const dot = add(root, 'ellipse', {cx: x(row[i]), cy: y(row[0]), rx: 3.4, ry: 3.2, fill: '#1010e6'});
      
      
    }
  });

  zoneDepths.forEach(d => {
    const dash = add(root, 'line', {x1: x(2), x2: x(2) + 462, y1: y(d), y2: y(d), stroke: '#000', 'stroke-width': 6.5, 'stroke-dasharray': '20 20.6'});
    
    
  });

  const mean = add(root, 'polyline', {
    points: p.meanDiff.map((v, i) => x(v) + ',' + y(p.meanDepth[i])).join(' '),
    fill: 'none', stroke: '#12e82a', 'stroke-width': 9.5, 'stroke-linejoin': 'round'
  });
  
  

  const frame = add(root, 'rect', {x: x(2), y: y(0), width: 461.5, height: 855, fill: 'none', stroke: '#111', 'stroke-width': 2});
  
  

  depthTickValues.forEach(d => {
    if (d > 0 && d < 500) {
      const t1 = add(root, 'line', {x1: x(2), x2: x(2) + 8, y1: y(d), y2: y(d), stroke: '#111', 'stroke-width': 1.5});
      
      
      const t2 = add(root, 'line', {x1: x(2) + 453, x2: x(2) + 461, y1: y(d), y2: y(d), stroke: '#111', 'stroke-width': 1.5});
      
      
    }
    const label = String(d);
    const lab = addText(root, x(2) - 19, y(d) + 15.5, 33, label, label.length * 17.7, true, 'end');
    
    
  });

  diffTickValues.forEach(v => {
    const t1 = add(root, 'line', {x1: x(v), x2: x(v), y1: y(0), y2: y(0) + 7, stroke: '#111', 'stroke-width': 1.5});
    
    
    const t2 = add(root, 'line', {x1: x(v), x2: x(v), y1: y(500) - 8, y2: y(500), stroke: '#111', 'stroke-width': 1.5});
    
    
    const label = String(v);
    const lab = addText(root, x(v) - p.tickShift, p.tickBase, 33, label, label.length * 17, true, 'middle');
    
    
  });

  const zoneY = [130, 250, 549, 925.7];
  zoneLabels.forEach((z, i) => {
    const lab = addText(root, p.left + 4, zoneY[i], 32, z, 92, true);
    
    
  });

  // legend
  const lg = p.legend;
  const box = add(root, 'rect', {x: lg.x, y: 752.7, width: lg.w, height: 165.3, fill: '#fff', stroke: '#222', 'stroke-width': 1.5});
  
  
  const mk = add(root, 'circle', {cx: lg.mx, cy: 800.7, r: 12, fill: '#1010e6'});
  
  
  const ln = add(root, 'line', {x1: lg.l1, x2: lg.l2, y1: 899.7, y2: 899.7, stroke: '#12f01a', 'stroke-width': 11});
  
  
  lg.text.forEach(t => {
    const el = addText(root, t[0], t[2], 35, t[3], t[1] - t[0], true);
    
    
  });

  // leader lines
  p.leaders.forEach(l => {
    const el = add(root, 'line', {x1: l[0], y1: l[1], x2: l[2], y2: l[3], stroke: '#000', 'stroke-width': 3.6});
    
    
  });

  // histograms
  const hx = v => p.histLeft + (v - 10) * 3.855;
  p.hists.forEach((vals, h) => {
    const top = histFrames[h][0], bottom = histFrames[h][1], hh = bottom - top;
    const hy = v => bottom - v / 100 * hh;
    const bg = add(root, 'rect', {x: hx(10), y: top, width: 192.7, height: hh, fill: '#fff'});
    
    
    vals.forEach((v, i) => {
      const mm = 19 + i;
      const bar = add(root, 'rect', {x: hx(mm), y: hy(v), width: 4.1, height: bottom - hy(v), fill: p.histColor});
      
      
    });
    const mean2 = add(root, 'line', {x1: hx(p.meanLength[h]), x2: hx(p.meanLength[h]), y1: bottom, y2: hy(p.meanTop[h]), stroke: '#12e82a', 'stroke-width': 9.5, 'stroke-dasharray': '20 20.7'});
    
    
    const fr = add(root, 'rect', {x: hx(10), y: top, width: 192.7, height: hh, fill: 'none', stroke: '#333', 'stroke-width': 1.5});
    
    
    const n = addText(root, hx(10) + 1.5, histBaselines[h], 34, p.counts[h], p.countW[h], false);
    
    
  });
  lengthTickValues.forEach(v => {
    const label = String(v);
    const lab = addText(root, hx(v) + p.histTickShift, 872, 33, label, 34, true, 'middle');
    
    
  });
}

drawChart(document.getElementById('chartA'), {
  left: 153.4, cells: cellsA, meanDiff: meanDiffA, meanDepth: meanDepthA,
  tickShift: 3, tickBase: 970,
  legend: {x: 368.6, w: 230.4, mx: 401.6, l1: 381.6, l2: 430, text: [[438,593.5,778.7,'Dive-sized'],[476,545,817,'cells'],[443,588,854.7,'(n = 2239)'],[466,546,907,'mean']]},
  leaders: [[577,109,634,113.6],[584,187.5,634,298],[581,446,634,496.4],[584,679,634,719.6]],
  histLeft: 634, histColor: '#07106f', hists: [histA1, histA2, histA3, histA4],
  meanLength: meanLengthA, meanTop: meanTopA, counts: countLabelsA, countW: [122,106,141,141], histTickShift: 0
});
drawChart(document.getElementById('chartB'), {
  left: 940.5, cells: cellsB, meanDiff: meanDiffB, meanDepth: meanDepthB,
  tickShift: 1, tickBase: 967,
  legend: {x: 1155.7, w: 231.3, mx: 1189, l1: 1168, l2: 1218.5, text: [[1225,1381,778.7,'Dive-sized'],[1264.6,1333.5,817,'cells'],[1239,1367.6,854.7,'(n = 958)'],[1254,1335,907,'mean']]},
  leaders: [[1364,112,1421,116],[1370,190,1421,302],[1366.5,450,1421,502],[1370,682,1421,723.6]],
  histLeft: 1421, histColor: '#760a78', hists: [histB1, histB2, histB3, histB4],
  meanLength: meanLengthB, meanTop: meanTopB, counts: countLabelsB, countW: [122,122,141,141], histTickShift: -1
});

// colour bars
const svBarEl = document.getElementById('svBar');
svPalette.forEach((c, i) => {
  const w = (654 - 8.7) / svPalette.length;
  const seg = add(svBarEl, 'rect', {x: 8.7 + i * w, y: 1708, width: w + 0.5, height: 27, fill: c});
  
  
});
const svTicksEl = document.getElementById('svTicks');
const svTickX = v => 27 + v * 17.08;
svTickLabels.forEach((t, i) => {
  const lab = addText(svTicksEl, svTickX(svTickIndex[i]), 1703.7, 31, t, 35, true, 'middle');
  
  
});
const depthTicksEl = document.getElementById('depthTicks');
const depthX = v => 705.7 + v * 0.6942;
depthBarTicks.forEach(v => {
  const label = String(v);
  const lab = addText(depthTicksEl, v === 0 ? 705 : depthX(v) + (v === 400 ? -8.5 : -0.5), 1718, 29, label, label.length * 14.2, true, 'middle');
  
  
  const t = add(depthTicksEl, 'line', {x1: depthX(v), x2: depthX(v), y1: 1720, y2: 1728, stroke: '#111', 'stroke-width': 1.5});
  
  
});
const dbTicksEl = document.getElementById('dbTicks');
const dbX = v => 1052 + (v - 2) * 49.3;
const dbShift = {2: 0, 4: 0, 6: -8, 8: -9, 10: -14, 12: -10, 14: -4};
dbBarTicks.forEach(v => {
  const label = String(v);
  const lab = addText(dbTicksEl, dbX(v) + dbShift[v], 1695.6, 31, label, label.length * 13.4, true, 'middle');
  
  
});
</script>
</body>
</html>
